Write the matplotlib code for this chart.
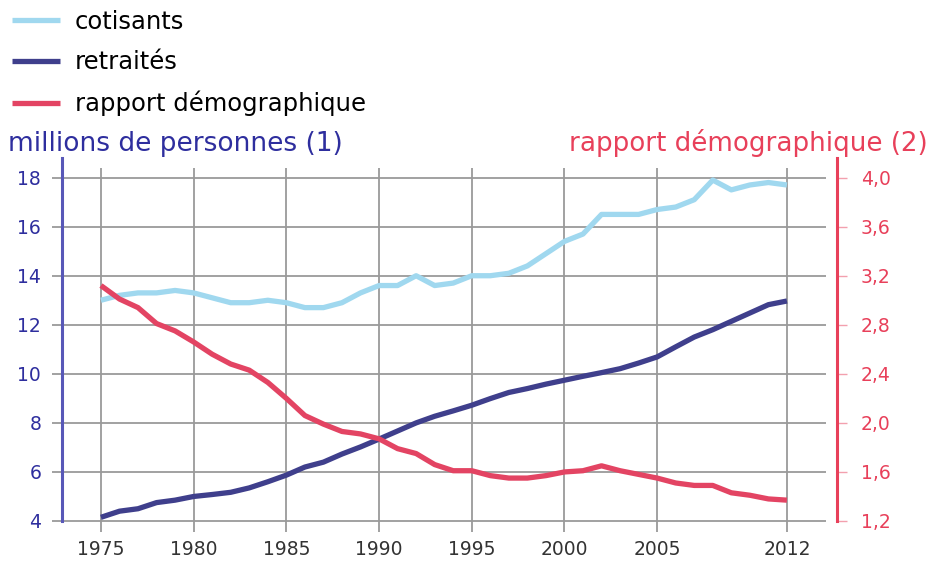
import matplotlib.pyplot as plt
from matplotlib.ticker import FixedLocator

years = list(range(1975, 2013))

cotisants = [13.0, 13.2, 13.3, 13.3, 13.4, 13.3, 13.1, 12.9, 12.9, 13.0,
             12.9, 12.7, 12.7, 12.9, 13.3, 13.6, 13.6, 14.0, 13.6, 13.7,
             14.0, 14.0, 14.1, 14.4, 14.9, 15.4, 15.7, 16.5, 16.5, 16.5,
             16.7, 16.8, 17.1, 17.9, 17.5, 17.7, 17.8, 17.7]

retraites = [4.15, 4.4, 4.5, 4.75, 4.85, 5.0, 5.08, 5.17, 5.35, 5.6,
             5.87, 6.2, 6.4, 6.73, 7.02, 7.34, 7.67, 8.0, 8.27, 8.49,
             8.72, 8.99, 9.24, 9.4, 9.58, 9.74, 9.9, 10.05, 10.21, 10.44,
             10.69, 11.1, 11.5, 11.8, 12.14, 12.48, 12.82, 12.97]

rapport = [3.12, 3.01, 2.94, 2.81, 2.75, 2.66, 2.56, 2.48, 2.43, 2.33,
           2.2, 2.06, 1.99, 1.93, 1.91, 1.87, 1.79, 1.75, 1.66, 1.61,
           1.61, 1.57, 1.55, 1.55, 1.57, 1.60, 1.61, 1.65, 1.61, 1.58,
           1.55, 1.51, 1.49, 1.49, 1.43, 1.41, 1.38, 1.37]

xtick_years = [1975, 1980, 1985, 1990, 1995, 2000, 2005, 2012]
left_ticks = [4, 6, 8, 10, 12, 14, 16, 18]
right_ticks = [1.2, 1.6, 2.0, 2.4, 2.8, 3.2, 3.6, 4.0]

C_COT = '#a0d8ef'
C_RET = '#3f3f8c'
C_RAP = '#e34463'
C_LEFT = '#2e2e9e'
C_LSPINE = '#5858b8'
C_RIGHT = '#e8405a'
C_GRID = '#9a9a9a'

fig = plt.figure(figsize=(9.33, 5.64), dpi=100)
ax = fig.add_axes([62 / 933, 1 - 521 / 564, (837 - 62) / 933, (521 - 158) / 564])
ax2 = ax.twinx()

ax.set_xlim(1972.9, 2014.7)
ax.set_ylim(4, 18.8)
ax2.set_ylim(1.2, 1.2 + 14.8 * 0.2)

# grid drawn by hand so it can stop short of the right axis and stick out as ticks
ax.hlines(left_ticks, 1972.36, 2014.1, color=C_GRID, lw=1.3, clip_on=False, zorder=1)
ax.vlines(xtick_years, 3.55, 18.4, color=C_GRID, lw=1.3, clip_on=False, zorder=1)

l1, = ax.plot(years, cotisants, color=C_COT, lw=3.8, solid_capstyle='butt', zorder=3)
l2, = ax.plot(years, retraites, color=C_RET, lw=3.8, solid_capstyle='butt', zorder=3)
l3, = ax2.plot(years, rapport, color=C_RAP, lw=3.8, solid_capstyle='butt', zorder=3)

for a in (ax, ax2):
    for s in ('top', 'bottom'):
        a.spines[s].set_visible(False)
ax.spines['right'].set_visible(False)
ax2.spines['left'].set_visible(False)
ax.spines['left'].set_color(C_LSPINE)
ax.spines['left'].set_linewidth(2.2)
ax2.spines['right'].set_color(C_RIGHT)
ax2.spines['right'].set_linewidth(2.2)

ax.xaxis.set_major_locator(FixedLocator(xtick_years))
ax.set_xticklabels([str(y) for y in xtick_years])
ax.tick_params(axis='x', length=0, pad=14, labelsize=13.5, labelcolor='#333333')
ax.yaxis.set_major_locator(FixedLocator(left_ticks))
ax.tick_params(axis='y', length=0, pad=15, labelsize=13.5, labelcolor=C_LEFT)

ax2.yaxis.set_major_locator(FixedLocator(right_ticks))
ax2.set_yticklabels([f'{v:.1f}'.replace('.', ',') for v in right_ticks])
ax2.tick_params(axis='y', length=7, width=1, color='#f3a0ae', pad=10,
                labelsize=13.5, labelcolor=C_RIGHT)

fig.text(8 / 933, 1 - 151 / 564, 'millions de personnes (1)', fontsize=19,
         color=C_LEFT, ha='left', va='baseline')
fig.text(928 / 933, 1 - 151 / 564, 'rapport démographique (2)', fontsize=18.8,
         color=C_RIGHT, ha='right', va='baseline')

fig.legend([l1, l2, l3], ['cotisants', 'retraités', 'rapport démographique'],
           loc='upper left', bbox_to_anchor=(-0.003, 1.009), frameon=False,
           fontsize=17.5, handlelength=2.0, handletextpad=0.6, labelspacing=0.68,
           borderaxespad=0.2)

fig.savefig('out.png', dpi=100)
